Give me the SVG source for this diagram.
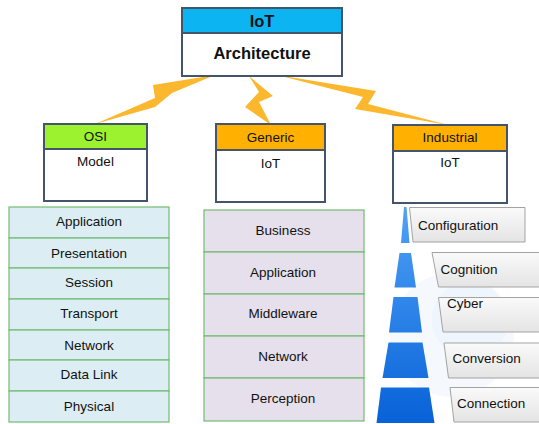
<svg xmlns="http://www.w3.org/2000/svg" width="539" height="424" viewBox="0 0 539 424">
<defs>
<linearGradient id="blueG" gradientUnits="userSpaceOnUse" x1="0" y1="207" x2="0" y2="423">
<stop offset="0" stop-color="#4FA2F7"/>
<stop offset="1" stop-color="#0862D8"/>
</linearGradient>
<linearGradient id="grayG" x1="0" y1="0" x2="0" y2="1">
<stop offset="0" stop-color="#FAFAFA"/>
<stop offset="1" stop-color="#E4E4E4"/>
</linearGradient>
</defs>
<style>
text{font-family:"Liberation Sans",Arial,sans-serif;fill:#111;text-anchor:middle;font-size:13.5px}
.b{font-weight:bold;font-size:16.5px}
.box{fill:#fff;stroke:#44546A;stroke-width:2}
.hdr{stroke:#44546A;stroke-width:2}
.osi{fill:#DCEEF3;stroke:#72BB72;stroke-width:1.2}
.gen{fill:#E5E0EC;stroke:#72BB72;stroke-width:1.2}
.bolt{fill:#FBB82E}
.trap{fill:url(#blueG)}
.lbl{fill:url(#grayG);stroke:#A3A3A3;stroke-width:1}
.l{text-anchor:start}
</style>
<rect width="539" height="424" fill="#fff"/>
<circle cx="452" cy="335" r="62" fill="#EEF4FB" opacity="0.6"/>
<circle cx="470" cy="320" r="38" fill="#E6EFF9" opacity="0.4"/>

<g id="connectors">
<polygon class="bolt" points="215,75 153,85 155,98 95,124 155,107 172,93"/>
<polygon class="bolt" points="249,76 273,96 259,102 271,125 245,107 259,92"/>
<polygon class="bolt" points="277,75 376,91 368,104 448,125 355,109 363,97"/>
</g>

<g id="iot">
<rect class="box" x="182" y="8" width="160" height="68"/>
<rect class="hdr" x="182" y="8" width="160" height="25" fill="#0DB4F2"/>
<text class="b" x="262" y="26.5">IoT</text>
<text class="b" x="262" y="59">Architecture</text>
</g>

<g id="osi">
<rect class="box" x="44" y="124" width="103" height="77"/>
<rect class="hdr" x="44" y="124" width="103" height="25" fill="#9CF22F"/>
<text x="95.5" y="140.5">OSI</text>
<text x="95.5" y="165.5">Model</text>
</g>

<g id="generic">
<rect class="box" x="216" y="124" width="109" height="78"/>
<rect class="hdr" x="216" y="124" width="109" height="26" fill="#FFB000"/>
<text x="270.5" y="142">Generic</text>
<text x="270.5" y="167.5">IoT</text>
</g>

<g id="industrial">
<rect class="box" x="393" y="125" width="114" height="78"/>
<rect class="hdr" x="393" y="125" width="114" height="26" fill="#FFB000"/>
<text x="450" y="141.5">Industrial</text>
<text x="450" y="166.5">IoT</text>
</g>

<g id="osi-layers">
<rect class="osi" x="9" y="207" width="160" height="31"/>
<rect class="osi" x="9" y="238" width="160" height="30"/>
<rect class="osi" x="9" y="268" width="160" height="31"/>
<rect class="osi" x="9" y="299" width="160" height="31"/>
<rect class="osi" x="9" y="330" width="160" height="30"/>
<rect class="osi" x="9" y="360" width="160" height="31"/>
<rect class="osi" x="9" y="391" width="160" height="31"/>
<text x="89" y="225.5">Application</text>
<text x="89" y="258">Presentation</text>
<text x="89" y="286.5">Session</text>
<text x="89" y="318">Transport</text>
<text x="89" y="350">Network</text>
<text x="89" y="379">Data Link</text>
<text x="89" y="411">Physical</text>
</g>

<g id="generic-layers">
<rect class="gen" x="204" y="210" width="160" height="42"/>
<rect class="gen" x="204" y="252" width="160" height="42"/>
<rect class="gen" x="204" y="294" width="160" height="42"/>
<rect class="gen" x="204" y="336" width="160" height="42"/>
<rect class="gen" x="204" y="378" width="160" height="43"/>
<text x="283" y="235">Business</text>
<text x="283" y="277">Application</text>
<text x="283" y="318">Middleware</text>
<text x="283" y="361">Network</text>
<text x="283" y="403">Perception</text>
</g>

<g id="industrial-layers">
<polygon class="trap" points="404,207 406.5,207 409.5,243 401,243"/>
<polygon class="trap" points="399.5,253 411,253 416,287.5 394.5,287.5"/>
<polygon class="trap" points="393.5,297 417.5,297 422,332.5 389,332.5"/>
<polygon class="trap" points="388.5,342.5 422.5,342.5 428.5,378 382.5,378"/>
<polygon class="trap" points="381,387.5 429,387.5 434.5,423 376.5,423"/>
<polygon class="lbl" points="409.5,207.5 525,207.5 525,242 413,242"/>
<polygon class="lbl" points="432,252.5 545,252.5 545,287 438.5,287"/>
<polygon class="lbl" points="438.5,297.5 545,297.5 545,332 443,332"/>
<polygon class="lbl" points="444,343 545,343 545,378 448.5,378"/>
<polygon class="lbl" points="450,387.5 545,387.5 545,422 454,422"/>
<text class="l" x="418" y="230">Configuration</text>
<text class="l" x="440.5" y="274">Cognition</text>
<text class="l" x="447" y="308">Cyber</text>
<text class="l" x="452.5" y="363">Conversion</text>
<text class="l" x="457" y="408">Connection</text>
</g>
</svg>
